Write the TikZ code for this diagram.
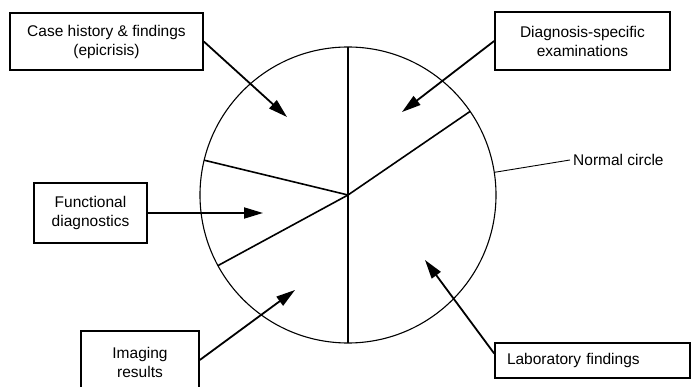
\documentclass[tikz,border=0pt]{standalone}
\usepackage{fontspec}
\setmainfont{Liberation Sans}
\usetikzlibrary{arrows.meta,calc}
\begin{document}
\begin{tikzpicture}[x=1pt,y=-1pt,
 box/.style={draw,line width=1.6pt,align=center,inner sep=0pt,font=\fontsize{15.5}{19}\selectfont},
 lbl/.style={font=\fontsize{15.5}{19}\selectfont,inner sep=3pt},
 arr/.style={line width=1.8pt,-{Triangle[length=19pt,width=11pt]}},
 spoke/.style={line width=1.6pt},
 ring/.style={line width=1.1pt},
]
\clip (0,0) rectangle (691,387);
\fill[white] (0,0) rectangle (691,387);
\coordinate (C) at (348,195);
\draw[ring] (C) circle[radius=148pt];
\coordinate (sT) at ($(C)+(90:148pt)$);
\coordinate (sB) at ($(C)+(270:148pt)$);
\coordinate (sUR) at ($(C)+(34.4:148pt)$);
\coordinate (sUL) at ($(C)+(166.4:148pt)$);
\coordinate (sLL) at ($(C)+(208.5:148pt)$);
\draw[spoke] (sT) -- (sB);
\draw[spoke] (C) -- (sUR);
\draw[spoke] (C) -- (sUL);
\draw[spoke] (C) -- (sLL);

\node[box, minimum width=193pt, minimum height=57pt] (b1) at (106.5,41.5) {Case history \& findings\\(epicrisis)};
\node[box, minimum width=175pt, minimum height=58pt] (b2) at (582.5,41) {Diagnosis-specific\\examinations};
\node[box, minimum width=113pt, minimum height=60pt] (b3) at (90.5,213) {Functional\\diagnostics};
\node[box, minimum width=118pt, minimum height=62pt] (b4) at (140,362) {Imaging\\results};
\node[box, minimum width=195pt, minimum height=35pt, text width=171pt, align=left] (b5) at (592.5,360.5) {Laboratory findings};

\coordinate (t1) at (287,117);
\coordinate (t2) at (402,112);
\coordinate (t3) at (263,213);
\coordinate (t4) at (295,290);
\coordinate (t5) at (425,260);
\draw[arr] (b1.east) -- (t1);
\draw[arr] (b2.west) -- (t2);
\draw[arr] (b3.east) -- (t3);
\draw[arr] ([yshift=2pt]b4.east) -- (t4);
\draw[arr] ([yshift=7pt]b5.west) -- (t5);

\node[lbl, anchor=west] (nc) at (570,160) {Normal circle};
\coordinate (nc1) at ($(C)+(8.8:148pt)$);
\draw[line width=0.9pt] (nc1) -- (nc.west);
\end{tikzpicture}
\end{document}
